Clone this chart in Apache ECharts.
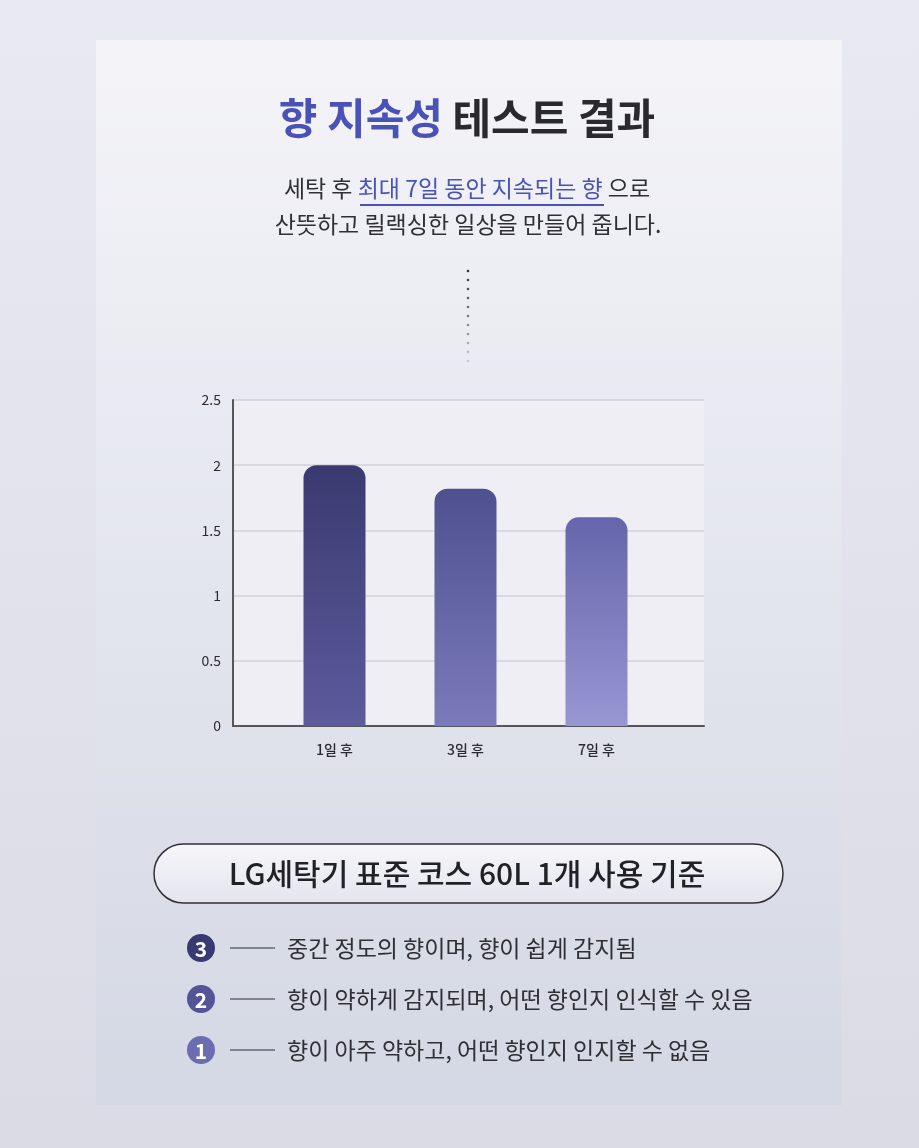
<!DOCTYPE html>
<html>
<head>
<meta charset="utf-8">
<script src="https://cdn.jsdelivr.net/npm/echarts@6/dist/echarts.min.js"></script>
<style>
  html, body { margin: 0; padding: 0; background: #e4e4ee; }
  #chart { width: 919px; height: 1148px; }
</style>
</head>
<body>
<div id="chart"></div>
<script>
// 향 지속성 테스트 데이터
const categories = ['1일 후', '3일 후', '7일 후']
const scores = [2.0, 1.82, 1.6]
const yTicks = [0, 0.5, 1, 1.5, 2, 2.5]
const legendItems = [
  { no: '3', text: '중간 정도의 향이며, 향이 쉽게 감지됨' },
  { no: '2', text: '향이 약하게 감지되며, 어떤 향인지 인식할 수 있음' },
  { no: '1', text: '향이 아주 약하고, 어떤 향인지 인지할 수 없음' }
]

const FONT = '"Noto Sans CJK KR", "Noto Sans", sans-serif'
const BLUE = '#4a52b8'

const barColors = [
  ['#3a3a70', '#5b5b9d'],
  ['#4e508f', '#7b7bbb'],
  ['#6565ab', '#9797d3']
]
const circleColors = ['#3a3a72', '#545497', '#6c6cb0']

const lin = (c1, c2) => new echarts.graphic.LinearGradient(0, 0, 0, 1, [
  { offset: 0, color: c1 },
  { offset: 1, color: c2 }
])

const graphic = [
  {
    type: 'rect', z: -10, silent: true,
    shape: { x: 0, y: 0, width: 919, height: 1148 },
    style: { fill: lin('#e9e9f3', '#dbdbe6') }
  },
  {
    type: 'rect', z: -9, silent: true,
    shape: { x: 96, y: 40, width: 746, height: 1065 },
    style: { fill: lin('#f4f4f8', '#d4d8e4') }
  },
  {
    type: 'text', x: 467, y: 118,
    style: {
      text: '{b|향 지속성}{d| 테스트 결과}',
      align: 'center', verticalAlign: 'middle',
      rich: {
        b: { fontSize: 42, fontWeight: 'bold', fill: BLUE, fontFamily: FONT },
        d: { fontSize: 42, fontWeight: 'bold', fill: '#2a2a2e', fontFamily: FONT }
      }
    }
  },
  {
    type: 'text', x: 467, y: 188,
    style: {
      text: '{n|세탁 후 }{b|최대 7일 동안 지속되는 향}{n| 으로}',
      align: 'center', verticalAlign: 'middle',
      rich: {
        n: { fontSize: 23, fill: '#2f2f35', fontFamily: FONT },
        b: { fontSize: 23, fill: BLUE, fontFamily: FONT }
      }
    }
  },
  {
    type: 'line',
    shape: { x1: 360, y1: 205, x2: 604, y2: 205 },
    style: { stroke: BLUE, lineWidth: 2 }
  },
  {
    type: 'text', x: 468, y: 224,
    style: {
      text: '산뜻하고 릴랙싱한 일상을 만들어 줍니다.', fontSize: 23, fill: '#2f2f35',
      fontFamily: FONT, align: 'center', verticalAlign: 'middle'
    }
  },
  {
    type: 'rect',
    shape: { x: 154, y: 844, width: 629, height: 59, r: 29.5 },
    style: { fill: lin('#f6f6fa', '#e4e4ee'), stroke: '#2f2f35', lineWidth: 1.5 }
  },
  {
    type: 'text', x: 467, y: 874,
    style: {
      text: 'LG세탁기 표준 코스 60L 1개 사용 기준', fontSize: 30, fontWeight: 500,
      fill: '#222226', fontFamily: FONT, align: 'center', verticalAlign: 'middle'
    }
  }
]

// 점선
for (let i = 0; i < 11; i++) {
  const g = Math.round(50 + i * 15)
  graphic.push({
    type: 'circle',
    shape: { cx: 468, cy: 271 + i * 9, r: 1.3 },
    style: { fill: 'rgb(' + g + ',' + g + ',' + (g + 10) + ')' }
  })
}

legendItems.forEach((item, i) => {
  const cy = 948 + i * 51
  graphic.push(
    {
      type: 'circle', shape: { cx: 201, cy: cy, r: 14 },
      style: { fill: circleColors[i] }
    },
    {
      type: 'text', x: 201, y: cy + 1,
      style: {
        text: item.no, fontSize: 21, fontWeight: 'bold', fill: '#fff',
        fontFamily: FONT, align: 'center', verticalAlign: 'middle'
      }
    },
    {
      type: 'line', shape: { x1: 230, y1: cy, x2: 275, y2: cy },
      style: { stroke: '#2f2f35', lineWidth: 1.2 }
    },
    {
      type: 'text', x: 287, y: cy,
      style: {
        text: item.text, fontSize: 23, fill: '#2f2f35',
        fontFamily: FONT, verticalAlign: 'middle'
      }
    }
  )
})

const option = {
  animation: false,
  textStyle: { fontFamily: FONT },
  graphic: graphic,
  grid: [
    { left: 233, top: 400, width: 471, height: 326, show: true, backgroundColor: '#eeeef4', borderWidth: 0 },
    { left: 269, top: 400, width: 393, height: 326 }
  ],
  xAxis: [
    {
      gridIndex: 0, type: 'category', data: [''],
      axisLine: { lineStyle: { color: '#55555c', width: 2 } },
      axisTick: { show: false }, axisLabel: { show: false }
    },
    {
      gridIndex: 1, type: 'category', data: categories,
      axisLine: { show: false }, axisTick: { show: false },
      axisLabel: { color: '#2a2a30', fontSize: 14, fontWeight: 500, margin: 17 }
    }
  ],
  yAxis: [
    {
      gridIndex: 0, type: 'value', min: yTicks[0], max: yTicks[yTicks.length - 1], interval: 0.5,
      axisLine: { show: true, lineStyle: { color: '#55555c', width: 2 } },
      axisTick: { show: false },
      splitLine: { lineStyle: { color: '#d2d2da', width: 1.5 } },
      axisLabel: { color: '#2a2a30', fontSize: 14, margin: 12 }
    },
    {
      gridIndex: 1, type: 'value', min: yTicks[0], max: yTicks[yTicks.length - 1], interval: 0.5,
      axisLine: { show: false }, axisTick: { show: false },
      splitLine: { show: false }, axisLabel: { show: false }
    }
  ],
  series: [
    {
      type: 'bar', xAxisIndex: 1, yAxisIndex: 1, barWidth: 62,
      data: scores.map((v, i) => ({
        value: v,
        itemStyle: { color: lin(barColors[i][0], barColors[i][1]), borderRadius: [13, 13, 0, 0] }
      }))
    }
  ]
}

const myChart = echarts.init(document.getElementById('chart'))
myChart.setOption(option)
</script>
</body>
</html>
